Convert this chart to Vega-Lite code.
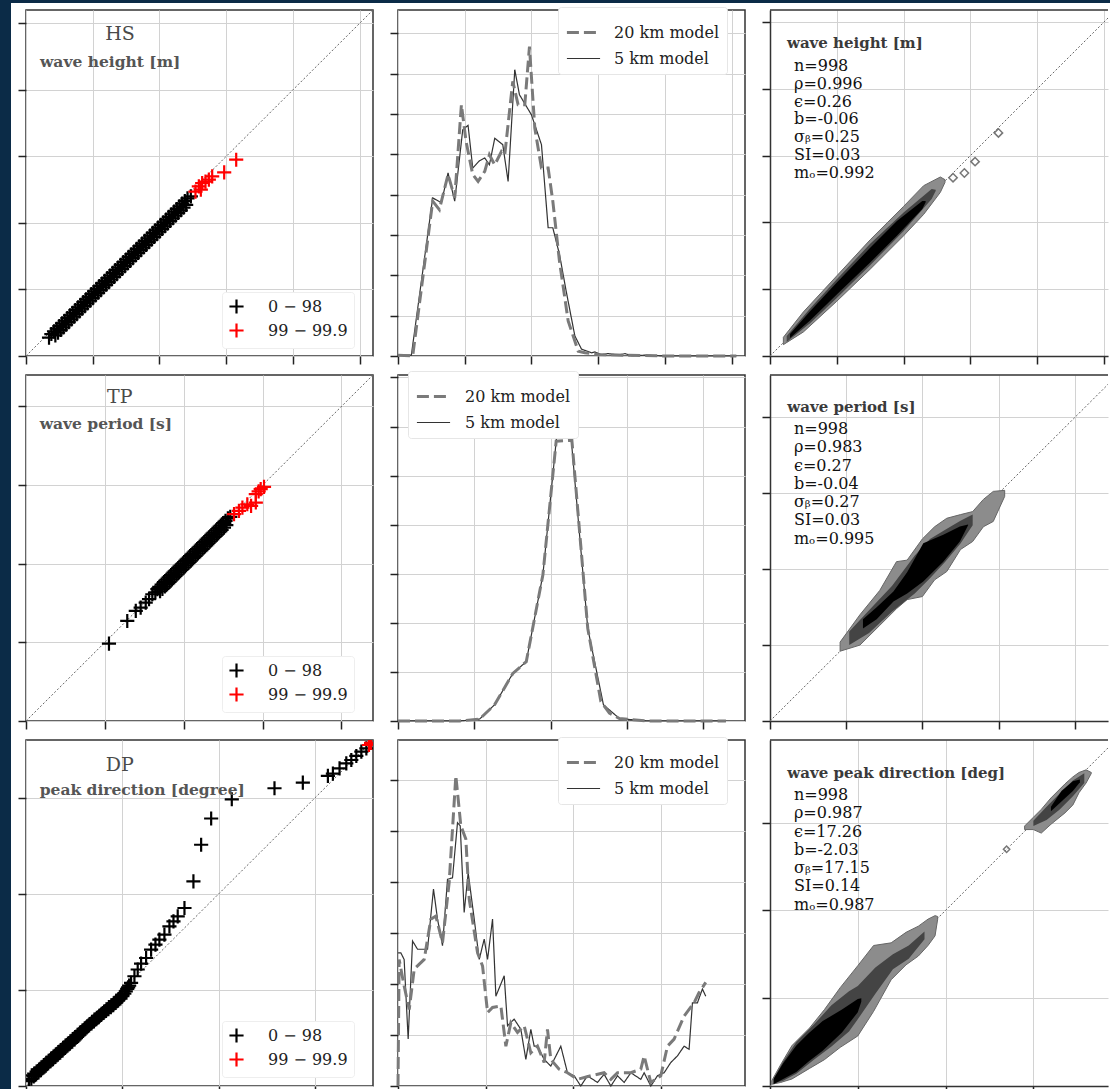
{
"$schema": "https://vega.github.io/schema/vega-lite/v6.json",
"padding": 0,
"background": "white",
"config": {
  "font": "DejaVu Serif",
  "view": {"stroke": "#333", "strokeWidth": 1.5},
  "axis": {"labels": false, "domain": false, "ticks": true, "tickSize": 8, "tickColor": "#222", "tickWidth": 1.5, "grid": true, "gridColor": "#d2d2d2", "gridWidth": 1}
},
"spacing": 0,
"vconcat": [
  {"width": 1110, "height": 3, "view": {"fill": "#0b2b47", "stroke": null}, "data": {"values": [{}]}, "mark": {"type": "point", "opacity": 0, "size": 0}, "encoding": {}},
  {"spacing": 5, "hconcat": [
  {"width": 11, "height": 1086, "view": {"fill": "#0b2b47", "stroke": null}, "data": {"values": [{}]}, "mark": {"type": "point", "opacity": 0, "size": 0}, "encoding": {}},
  {"spacing": 1, "vconcat": [
    {"width": 10, "height": 1, "view": {"stroke": null}, "data": {"values": [{}]}, "mark": {"type": "point", "opacity": 0, "size": 0}, "encoding": {}},
    {"columns": 3, "bounds": "flush", "align": "each", "spacing": {"row": 19, "column": 25},
     "resolve": {"scale": {"x": "independent", "y": "independent", "color": "independent", "strokeDash": "independent", "strokeWidth": "independent"}, "legend": {"color": "independent", "strokeDash": "independent", "strokeWidth": "independent"}, "axis": {"x": "independent", "y": "independent"}},
     "concat": [
      {"width": 347, "height": 346, "layer": [
        {"data": {"values": [{}]}, "mark": {"type": "rule", "strokeDash": [2, 2], "color": "#666", "strokeWidth": 1},
         "encoding": {"x": {"datum": 0, "type": "quantitative", "scale": {"domain": [0, 5.2], "nice": false}, "axis": {"values": [0, 1, 2, 3, 4, 5]}, "title": null},
                      "y": {"datum": 0, "type": "quantitative", "scale": {"domain": [0, 5.2], "nice": false}, "axis": {"values": [0, 1, 2, 3, 4, 5]}, "title": null},
                      "x2": {"datum": 5.2}, "y2": {"datum": 5.2}}},
        {"data": {"values": [
          {"x":0.345,"y":0.275,"c":"0 − 98"},
          {"x":0.38,"y":0.33,"c":"0 − 98"},{"x":0.42,"y":0.37,"c":"0 − 98"},{"x":0.46,"y":0.41,"c":"0 − 98"},{"x":0.5,"y":0.45,"c":"0 − 98"},{"x":0.54,"y":0.49,"c":"0 − 98"},{"x":0.58,"y":0.53,"c":"0 − 98"},{"x":0.62,"y":0.57,"c":"0 − 98"},{"x":0.66,"y":0.61,"c":"0 − 98"},{"x":0.7,"y":0.65,"c":"0 − 98"},{"x":0.74,"y":0.69,"c":"0 − 98"},{"x":0.78,"y":0.73,"c":"0 − 98"},{"x":0.82,"y":0.77,"c":"0 − 98"},{"x":0.86,"y":0.81,"c":"0 − 98"},{"x":0.9,"y":0.85,"c":"0 − 98"},{"x":0.94,"y":0.89,"c":"0 − 98"},{"x":0.98,"y":0.93,"c":"0 − 98"},{"x":1.02,"y":0.97,"c":"0 − 98"},{"x":1.06,"y":1.01,"c":"0 − 98"},{"x":1.1,"y":1.05,"c":"0 − 98"},{"x":1.14,"y":1.09,"c":"0 − 98"},{"x":1.18,"y":1.13,"c":"0 − 98"},{"x":1.22,"y":1.17,"c":"0 − 98"},{"x":1.26,"y":1.21,"c":"0 − 98"},{"x":1.3,"y":1.25,"c":"0 − 98"},{"x":1.34,"y":1.29,"c":"0 − 98"},{"x":1.38,"y":1.33,"c":"0 − 98"},{"x":1.42,"y":1.37,"c":"0 − 98"},{"x":1.46,"y":1.41,"c":"0 − 98"},{"x":1.5,"y":1.45,"c":"0 − 98"},{"x":1.54,"y":1.49,"c":"0 − 98"},{"x":1.58,"y":1.53,"c":"0 − 98"},{"x":1.62,"y":1.57,"c":"0 − 98"},{"x":1.66,"y":1.61,"c":"0 − 98"},{"x":1.7,"y":1.65,"c":"0 − 98"},{"x":1.74,"y":1.69,"c":"0 − 98"},{"x":1.78,"y":1.73,"c":"0 − 98"},{"x":1.82,"y":1.77,"c":"0 − 98"},{"x":1.86,"y":1.81,"c":"0 − 98"},{"x":1.9,"y":1.85,"c":"0 − 98"},{"x":1.94,"y":1.89,"c":"0 − 98"},{"x":1.98,"y":1.93,"c":"0 − 98"},{"x":2.02,"y":1.97,"c":"0 − 98"},{"x":2.06,"y":2.01,"c":"0 − 98"},{"x":2.1,"y":2.05,"c":"0 − 98"},{"x":2.14,"y":2.09,"c":"0 − 98"},{"x":2.18,"y":2.13,"c":"0 − 98"},{"x":2.22,"y":2.17,"c":"0 − 98"},{"x":2.26,"y":2.21,"c":"0 − 98"},{"x":2.3,"y":2.25,"c":"0 − 98"},{"x":2.34,"y":2.29,"c":"0 − 98"},{"x":2.38,"y":2.33,"c":"0 − 98"},{"x":2.42,"y":2.37,"c":"0 − 98"},{"x":2.47,"y":2.4,"c":"0 − 98"},
          {"x":0.44,"y":0.31,"c":"0 − 98"},{"x":0.48,"y":0.35,"c":"0 − 98"},{"x":0.52,"y":0.39,"c":"0 − 98"},{"x":0.56,"y":0.43,"c":"0 − 98"},{"x":0.6,"y":0.47,"c":"0 − 98"},{"x":0.64,"y":0.51,"c":"0 − 98"},{"x":0.68,"y":0.55,"c":"0 − 98"},{"x":0.72,"y":0.59,"c":"0 − 98"},{"x":0.76,"y":0.63,"c":"0 − 98"},{"x":0.8,"y":0.67,"c":"0 − 98"},{"x":0.84,"y":0.71,"c":"0 − 98"},{"x":0.88,"y":0.75,"c":"0 − 98"},{"x":0.92,"y":0.79,"c":"0 − 98"},{"x":0.96,"y":0.83,"c":"0 − 98"},{"x":1.0,"y":0.87,"c":"0 − 98"},{"x":1.04,"y":0.91,"c":"0 − 98"},{"x":1.08,"y":0.95,"c":"0 − 98"},{"x":1.12,"y":0.99,"c":"0 − 98"},{"x":1.16,"y":1.03,"c":"0 − 98"},{"x":1.2,"y":1.07,"c":"0 − 98"},{"x":1.24,"y":1.11,"c":"0 − 98"},{"x":1.28,"y":1.15,"c":"0 − 98"},{"x":1.32,"y":1.19,"c":"0 − 98"},{"x":1.36,"y":1.23,"c":"0 − 98"},{"x":1.4,"y":1.27,"c":"0 − 98"},{"x":1.44,"y":1.31,"c":"0 − 98"},{"x":1.48,"y":1.35,"c":"0 − 98"},{"x":1.52,"y":1.39,"c":"0 − 98"},{"x":1.56,"y":1.43,"c":"0 − 98"},{"x":1.6,"y":1.47,"c":"0 − 98"},{"x":1.64,"y":1.51,"c":"0 − 98"},{"x":1.68,"y":1.55,"c":"0 − 98"},{"x":1.72,"y":1.59,"c":"0 − 98"},{"x":1.76,"y":1.63,"c":"0 − 98"},{"x":1.8,"y":1.67,"c":"0 − 98"},{"x":1.84,"y":1.71,"c":"0 − 98"},{"x":1.88,"y":1.75,"c":"0 − 98"},{"x":1.92,"y":1.79,"c":"0 − 98"},{"x":1.96,"y":1.83,"c":"0 − 98"},{"x":2.0,"y":1.87,"c":"0 − 98"},{"x":2.04,"y":1.91,"c":"0 − 98"},{"x":2.08,"y":1.95,"c":"0 − 98"},{"x":2.12,"y":1.99,"c":"0 − 98"},{"x":2.16,"y":2.03,"c":"0 − 98"},{"x":2.2,"y":2.07,"c":"0 − 98"},{"x":2.24,"y":2.11,"c":"0 − 98"},{"x":2.28,"y":2.15,"c":"0 − 98"},{"x":2.32,"y":2.19,"c":"0 − 98"},{"x":2.36,"y":2.23,"c":"0 − 98"},{"x":2.4,"y":2.27,"c":"0 − 98"},
          {"x":2.54,"y":2.47,"c":"99 − 99.9"},{"x":2.59,"y":2.55,"c":"99 − 99.9"},{"x":2.62,"y":2.5,"c":"99 − 99.9"},{"x":2.64,"y":2.6,"c":"99 − 99.9"},{"x":2.69,"y":2.62,"c":"99 − 99.9"},{"x":2.74,"y":2.65,"c":"99 − 99.9"},{"x":2.79,"y":2.7,"c":"99 − 99.9"},{"x":2.97,"y":2.76,"c":"99 − 99.9"},{"x":3.15,"y":2.95,"c":"99 − 99.9"}]},
         "mark": {"type": "point", "shape": "M-1,0L1,0M0,-1L0,1", "filled": false, "size": 200, "strokeWidth": 2.2, "opacity": 1},
         "encoding": {"x": {"field": "x", "type": "quantitative", "scale": {"domain": [0, 5.2], "nice": false}, "title": null},
                      "y": {"field": "y", "type": "quantitative", "scale": {"domain": [0, 5.2], "nice": false}, "title": null},
                      "color": {"field": "c", "type": "nominal", "scale": {"domain": ["0 − 98", "99 − 99.9"], "range": ["#000000", "#ff0000"]},
                                "legend": {"orient": "none", "legendX": 196, "legendY": 282, "title": null, "symbolType": "M-1,0L1,0M0,-1L0,1", "symbolSize": 200, "symbolStrokeWidth": 2.2, "labelFontSize": 16, "labelColor": "#222", "labelOffset": 23, "rowPadding": 1, "fillColor": "white", "strokeColor": "#eeeeee", "padding": 6, "cornerRadius": 3}}}},
        {"data": {"values": [{}]}, "mark": {"type": "text", "text": "HS", "fontSize": 19, "color": "#4a4a4a", "align": "center", "baseline": "middle"},
         "encoding": {"x": {"datum": 1.41, "type": "quantitative", "scale": {"domain": [0, 5.2], "nice": false}, "title": null}, "y": {"datum": 4.84, "type": "quantitative", "scale": {"domain": [0, 5.2], "nice": false}, "title": null}}},
        {"data": {"values": [{}]}, "mark": {"type": "text", "text": "wave height [m]", "fontSize": 15.5, "fontWeight": "bold", "color": "#555", "align": "left", "baseline": "middle"},
         "encoding": {"x": {"datum": 0.21, "type": "quantitative", "scale": {"domain": [0, 5.2], "nice": false}, "title": null}, "y": {"datum": 4.42, "type": "quantitative", "scale": {"domain": [0, 5.2], "nice": false}, "title": null}}}
      ]},
      {"width": 347, "height": 346,
       "data": {"values": [
         {"x":0,"y":0.02,"m":"5 km model"},{"x":0.2,"y":0.02,"m":"5 km model"},{"x":0.52,"y":3.92,"m":"5 km model"},{"x":0.65,"y":3.8,"m":"5 km model"},{"x":0.75,"y":4.54,"m":"5 km model"},{"x":0.85,"y":3.84,"m":"5 km model"},{"x":0.97,"y":5.61,"m":"5 km model"},{"x":1.05,"y":5.72,"m":"5 km model"},{"x":1.12,"y":4.66,"m":"5 km model"},{"x":1.22,"y":4.84,"m":"5 km model"},{"x":1.3,"y":4.91,"m":"5 km model"},{"x":1.37,"y":4.74,"m":"5 km model"},{"x":1.45,"y":5.4,"m":"5 km model"},{"x":1.57,"y":5.24,"m":"5 km model"},{"x":1.65,"y":4.33,"m":"5 km model"},{"x":1.75,"y":7.1,"m":"5 km model"},{"x":1.82,"y":6.48,"m":"5 km model"},{"x":2.0,"y":5.98,"m":"5 km model"},{"x":2.15,"y":5.24,"m":"5 km model"},{"x":2.25,"y":3.18,"m":"5 km model"},{"x":2.32,"y":3.18,"m":"5 km model"},{"x":2.42,"y":2.52,"m":"5 km model"},{"x":2.52,"y":1.61,"m":"5 km model"},{"x":2.65,"y":0.5,"m":"5 km model"},{"x":2.75,"y":0.17,"m":"5 km model"},{"x":2.9,"y":0.08,"m":"5 km model"},{"x":2.95,"y":0.1,"m":"5 km model"},{"x":3.05,"y":0.03,"m":"5 km model"},{"x":3.15,"y":0.06,"m":"5 km model"},{"x":3.3,"y":0.02,"m":"5 km model"},{"x":3.4,"y":0.06,"m":"5 km model"},{"x":3.5,"y":0.01,"m":"5 km model"},{"x":3.7,"y":0.02,"m":"5 km model"},{"x":4.0,"y":0,"m":"5 km model"},{"x":5.07,"y":0,"m":"5 km model"},
         {"x":0,"y":0.02,"m":"20 km model"},{"x":0.22,"y":0,"m":"20 km model"},{"x":0.52,"y":3.84,"m":"20 km model"},{"x":0.62,"y":3.63,"m":"20 km model"},{"x":0.75,"y":4.5,"m":"20 km model"},{"x":0.85,"y":3.92,"m":"20 km model"},{"x":0.95,"y":6.23,"m":"20 km model"},{"x":1.02,"y":5.32,"m":"20 km model"},{"x":1.12,"y":4.5,"m":"20 km model"},{"x":1.2,"y":4.33,"m":"20 km model"},{"x":1.3,"y":4.58,"m":"20 km model"},{"x":1.37,"y":4.99,"m":"20 km model"},{"x":1.45,"y":4.74,"m":"20 km model"},{"x":1.55,"y":5.07,"m":"20 km model"},{"x":1.6,"y":4.99,"m":"20 km model"},{"x":1.72,"y":6.81,"m":"20 km model"},{"x":1.8,"y":6.23,"m":"20 km model"},{"x":1.9,"y":6.23,"m":"20 km model"},{"x":1.97,"y":7.67,"m":"20 km model"},{"x":2.05,"y":5.65,"m":"20 km model"},{"x":2.15,"y":4.66,"m":"20 km model"},{"x":2.25,"y":4.66,"m":"20 km model"},{"x":2.32,"y":3.84,"m":"20 km model"},{"x":2.42,"y":2.35,"m":"20 km model"},{"x":2.55,"y":0.87,"m":"20 km model"},{"x":2.7,"y":0.12,"m":"20 km model"},{"x":2.8,"y":0.08,"m":"20 km model"},{"x":3.0,"y":0.04,"m":"20 km model"},{"x":3.4,"y":0.02,"m":"20 km model"},{"x":4.0,"y":0,"m":"20 km model"},{"x":5.07,"y":0,"m":"20 km model"}]},
       "mark": {"type": "line"},
       "encoding": {
         "x": {"field": "x", "type": "quantitative", "scale": {"domain": [0, 5.2], "nice": false}, "axis": {"values": [0, 1, 2, 3, 4, 5]}, "title": null},
         "y": {"field": "y", "type": "quantitative", "scale": {"domain": [0, 8.58], "nice": false}, "axis": {"values": [0, 1, 2, 3, 4, 5, 6, 7, 8]}, "title": null},
         "color": {"field": "m", "type": "nominal", "scale": {"domain": ["20 km model", "5 km model"], "range": ["#7a7a7a", "#333333"]}, "legend": {"orient": "none", "legendX": 160, "legendY": -3, "title": null, "labelFontSize": 16, "labelColor": "#222", "symbolSize": 1100, "labelOffset": 12, "rowPadding": 0, "fillColor": "white", "strokeColor": "#e6e6e6", "padding": 7, "cornerRadius": 3}},
         "strokeDash": {"field": "m", "type": "nominal", "scale": {"domain": ["20 km model", "5 km model"], "range": [[12, 5], [1, 0]]}, "legend": {"orient": "none", "legendX": 160, "legendY": -3, "title": null, "labelFontSize": 16, "labelColor": "#222", "symbolSize": 1100, "labelOffset": 12, "rowPadding": 0, "fillColor": "white", "strokeColor": "#e6e6e6", "padding": 7, "cornerRadius": 3}},
         "strokeWidth": {"field": "m", "type": "nominal", "scale": {"domain": ["20 km model", "5 km model"], "range": [3, 1.2]}, "legend": {"orient": "none", "legendX": 160, "legendY": -3, "title": null, "labelFontSize": 16, "labelColor": "#222", "symbolSize": 1100, "labelOffset": 12, "rowPadding": 0, "fillColor": "white", "strokeColor": "#e6e6e6", "padding": 7, "cornerRadius": 3}}
       }},
      {"width": 338, "height": 346, "view": {"stroke": null}, "layer": [
        {"data": {"values": [{}]}, "mark": {"type": "rule", "strokeDash": [2, 2], "color": "#666", "strokeWidth": 1, "clip": true},
         "encoding": {"x": {"datum": 0, "type": "quantitative", "scale": {"domain": [0, 5.06], "nice": false}, "axis": {"values": [0, 1, 2, 3, 4, 5], "domain": true, "domainColor": "#333", "domainWidth": 1.5}, "title": null},
                      "y": {"datum": 0, "type": "quantitative", "scale": {"domain": [0, 5.18], "nice": false}, "axis": {"values": [0, 1, 2, 3, 4, 5], "domain": true, "domainColor": "#333", "domainWidth": 1.5}, "title": null},
                      "x2": {"datum": 5.18}, "y2": {"datum": 5.18}}},
        {"data": {"values": [{"x":0.2,"lo":0.17,"hi":0.28},{"x":0.5,"lo":0.36,"hi":0.66},{"x":1.0,"lo":0.82,"hi":1.2},{"x":1.5,"lo":1.3,"hi":1.74},{"x":2.0,"lo":1.8,"hi":2.24},{"x":2.3,"lo":2.12,"hi":2.55},{"x":2.55,"lo":2.45,"hi":2.68},{"x":2.62,"lo":2.6,"hi":2.64}]},
         "mark": {"type": "area", "fill": "#8c8c8c", "stroke": "#666", "strokeWidth": 1},
         "encoding": {"x": {"field": "x", "type": "quantitative", "scale": {"domain": [0, 5.06], "nice": false}, "title": null}, "y": {"field": "lo", "type": "quantitative", "scale": {"domain": [0, 5.18], "nice": false}, "title": null}, "y2": {"field": "hi"}}},
        {"data": {"values": [{"x":0.25,"lo":0.21,"hi":0.3},{"x":0.6,"lo":0.49,"hi":0.71},{"x":1.0,"lo":0.87,"hi":1.15},{"x":1.5,"lo":1.36,"hi":1.68},{"x":2.0,"lo":1.87,"hi":2.15},{"x":2.42,"lo":2.35,"hi":2.5},{"x":2.48,"lo":2.47,"hi":2.49}]},
         "mark": {"type": "area", "fill": "#444"},
         "encoding": {"x": {"field": "x", "type": "quantitative", "scale": {"domain": [0, 5.06], "nice": false}, "title": null}, "y": {"field": "lo", "type": "quantitative", "scale": {"domain": [0, 5.18], "nice": false}, "title": null}, "y2": {"field": "hi"}}},
        {"data": {"values": [{"x":0.3,"lo":0.27,"hi":0.33},{"x":0.6,"lo":0.53,"hi":0.67},{"x":1.0,"lo":0.92,"hi":1.1},{"x":1.5,"lo":1.4,"hi":1.62},{"x":1.9,"lo":1.8,"hi":2.02},{"x":2.28,"lo":2.2,"hi":2.32},{"x":2.33,"lo":2.3,"hi":2.32}]},
         "mark": {"type": "area", "fill": "#000"},
         "encoding": {"x": {"field": "x", "type": "quantitative", "scale": {"domain": [0, 5.06], "nice": false}, "title": null}, "y": {"field": "lo", "type": "quantitative", "scale": {"domain": [0, 5.18], "nice": false}, "title": null}, "y2": {"field": "hi"}}},
        {"data": {"values": [{"x":2.74,"y":2.67},{"x":2.91,"y":2.74},{"x":3.07,"y":2.91},{"x":3.42,"y":3.34}]},
         "mark": {"type": "point", "shape": "diamond", "filled": false, "size": 70, "color": "#777", "strokeWidth": 1.5, "opacity": 1},
         "encoding": {"x": {"field": "x", "type": "quantitative", "scale": {"domain": [0, 5.06], "nice": false}, "title": null}, "y": {"field": "y", "type": "quantitative", "scale": {"domain": [0, 5.18], "nice": false}, "title": null}}},
        {"data": {"values": [{}]}, "mark": {"type": "rule", "color": "#333", "strokeWidth": 1.5},
         "encoding": {"y": {"datum": 5.18, "type": "quantitative", "scale": {"domain": [0, 5.18], "nice": false}, "title": null}}},
        {"data": {"values": [{}]}, "mark": {"type": "text", "text": "wave height [m]", "fontSize": 15, "fontWeight": "bold", "color": "#3a3a3a", "align": "left", "baseline": "middle"},
         "encoding": {"x": {"datum": 0.254, "type": "quantitative", "scale": {"domain": [0, 5.06], "nice": false}, "title": null}, "y": {"datum": 4.685, "type": "quantitative", "scale": {"domain": [0, 5.18], "nice": false}, "title": null}}},
        {"data": {"values": [{}]}, "mark": {"type": "text", "text": ["n=998", "ρ=0.996", "ϵ=0.26", "b=-0.06", "σᵦ=0.25", "SI=0.03", "mₒ=0.992"], "lineHeight": 17.8, "fontSize": 16, "color": "#111", "align": "left", "baseline": "top"},
         "encoding": {"x": {"datum": 0.36, "type": "quantitative", "scale": {"domain": [0, 5.06], "nice": false}, "title": null}, "y": {"datum": 4.46, "type": "quantitative", "scale": {"domain": [0, 5.18], "nice": false}, "title": null}}}
      ]},
      {"width": 347, "height": 346, "layer": [
        {"data": {"values": [{}]}, "mark": {"type": "rule", "strokeDash": [2, 2], "color": "#666", "strokeWidth": 1},
         "encoding": {"x": {"datum": 0, "type": "quantitative", "scale": {"domain": [0, 22], "nice": false}, "axis": {"values": [0, 5, 10, 15, 20]}, "title": null},
                      "y": {"datum": 0, "type": "quantitative", "scale": {"domain": [0, 22], "nice": false}, "axis": {"values": [0, 5, 10, 15, 20]}, "title": null},
                      "x2": {"datum": 22}, "y2": {"datum": 22}}},
        {"data": {"values": [
          {"x":5.26,"y":4.92,"c":"0 − 98"},{"x":6.42,"y":6.36,"c":"0 − 98"},{"x":6.96,"y":7.0,"c":"0 − 98"},{"x":7.27,"y":7.21,"c":"0 − 98"},{"x":7.59,"y":7.53,"c":"0 − 98"},{"x":7.8,"y":7.75,"c":"0 − 98"},{"x":8.01,"y":8.06,"c":"0 − 98"},{"x":8.2,"y":8.18,"c":"0 − 98"},{"x":8.33,"y":8.38,"c":"0 − 98"},
          {"x":8.45,"y":8.53,"c":"0 − 98"},{"x":8.6,"y":8.68,"c":"0 − 98"},{"x":8.75,"y":8.83,"c":"0 − 98"},{"x":8.9,"y":8.98,"c":"0 − 98"},{"x":9.05,"y":9.13,"c":"0 − 98"},{"x":9.2,"y":9.28,"c":"0 − 98"},{"x":9.35,"y":9.43,"c":"0 − 98"},{"x":9.5,"y":9.58,"c":"0 − 98"},{"x":9.65,"y":9.73,"c":"0 − 98"},{"x":9.8,"y":9.88,"c":"0 − 98"},{"x":9.95,"y":10.03,"c":"0 − 98"},{"x":10.1,"y":10.18,"c":"0 − 98"},{"x":10.25,"y":10.33,"c":"0 − 98"},{"x":10.4,"y":10.48,"c":"0 − 98"},{"x":10.55,"y":10.63,"c":"0 − 98"},{"x":10.7,"y":10.78,"c":"0 − 98"},{"x":10.85,"y":10.93,"c":"0 − 98"},{"x":11.0,"y":11.08,"c":"0 − 98"},{"x":11.15,"y":11.23,"c":"0 − 98"},{"x":11.3,"y":11.38,"c":"0 − 98"},{"x":11.45,"y":11.53,"c":"0 − 98"},{"x":11.6,"y":11.68,"c":"0 − 98"},{"x":11.75,"y":11.83,"c":"0 − 98"},{"x":11.9,"y":11.98,"c":"0 − 98"},{"x":12.05,"y":12.13,"c":"0 − 98"},{"x":12.2,"y":12.28,"c":"0 − 98"},{"x":12.35,"y":12.43,"c":"0 − 98"},{"x":12.5,"y":12.58,"c":"0 − 98"},{"x":12.65,"y":12.73,"c":"0 − 98"},{"x":12.8,"y":12.88,"c":"0 − 98"},{"x":12.95,"y":12.98,"c":"0 − 98"},
          {"x":8.5,"y":8.25,"c":"0 − 98"},{"x":8.65,"y":8.4,"c":"0 − 98"},{"x":8.8,"y":8.55,"c":"0 − 98"},{"x":8.95,"y":8.7,"c":"0 − 98"},{"x":9.1,"y":8.85,"c":"0 − 98"},{"x":9.25,"y":9.0,"c":"0 − 98"},{"x":9.4,"y":9.15,"c":"0 − 98"},{"x":9.55,"y":9.3,"c":"0 − 98"},{"x":9.7,"y":9.45,"c":"0 − 98"},{"x":9.85,"y":9.6,"c":"0 − 98"},{"x":10.0,"y":9.75,"c":"0 − 98"},{"x":10.15,"y":9.9,"c":"0 − 98"},{"x":10.3,"y":10.05,"c":"0 − 98"},{"x":10.45,"y":10.2,"c":"0 − 98"},{"x":10.6,"y":10.35,"c":"0 − 98"},{"x":10.75,"y":10.5,"c":"0 − 98"},{"x":10.9,"y":10.65,"c":"0 − 98"},{"x":11.05,"y":10.8,"c":"0 − 98"},{"x":11.2,"y":10.95,"c":"0 − 98"},{"x":11.35,"y":11.1,"c":"0 − 98"},{"x":11.5,"y":11.25,"c":"0 − 98"},{"x":11.65,"y":11.4,"c":"0 − 98"},{"x":11.8,"y":11.55,"c":"0 − 98"},{"x":11.95,"y":11.7,"c":"0 − 98"},{"x":12.1,"y":11.85,"c":"0 − 98"},{"x":12.25,"y":12.0,"c":"0 − 98"},{"x":12.4,"y":12.15,"c":"0 − 98"},{"x":12.55,"y":12.3,"c":"0 − 98"},{"x":12.7,"y":12.45,"c":"0 − 98"},
          {"x":13.19,"y":13.15,"c":"99 − 99.9"},{"x":13.5,"y":13.36,"c":"99 − 99.9"},{"x":13.72,"y":13.57,"c":"99 − 99.9"},{"x":14.03,"y":13.78,"c":"99 − 99.9"},{"x":14.27,"y":13.68,"c":"99 − 99.9"},{"x":14.57,"y":13.89,"c":"99 − 99.9"},{"x":14.57,"y":14.42,"c":"99 − 99.9"},{"x":14.75,"y":14.6,"c":"99 − 99.9"},{"x":14.88,"y":14.74,"c":"99 − 99.9"},{"x":15.09,"y":14.89,"c":"99 − 99.9"}]},
         "mark": {"type": "point", "shape": "M-1,0L1,0M0,-1L0,1", "filled": false, "size": 200, "strokeWidth": 2.2, "opacity": 1},
         "encoding": {"x": {"field": "x", "type": "quantitative", "scale": {"domain": [0, 22], "nice": false}, "title": null},
                      "y": {"field": "y", "type": "quantitative", "scale": {"domain": [0, 22], "nice": false}, "title": null},
                      "color": {"field": "c", "type": "nominal", "scale": {"domain": ["0 − 98", "99 − 99.9"], "range": ["#000000", "#ff0000"]},
                                "legend": {"orient": "none", "legendX": 196, "legendY": 281, "title": null, "symbolType": "M-1,0L1,0M0,-1L0,1", "symbolSize": 200, "symbolStrokeWidth": 2.2, "labelFontSize": 16, "labelColor": "#222", "labelOffset": 23, "rowPadding": 1, "fillColor": "white", "strokeColor": "#eeeeee", "padding": 6, "cornerRadius": 3}}}},
        {"data": {"values": [{}]}, "mark": {"type": "text", "text": "TP", "fontSize": 19, "color": "#4a4a4a", "align": "center", "baseline": "middle"},
         "encoding": {"x": {"datum": 5.94, "type": "quantitative", "scale": {"domain": [0, 22], "nice": false}, "title": null}, "y": {"datum": 20.57, "type": "quantitative", "scale": {"domain": [0, 22], "nice": false}, "title": null}}},
        {"data": {"values": [{}]}, "mark": {"type": "text", "text": "wave period [s]", "fontSize": 15.5, "fontWeight": "bold", "color": "#555", "align": "left", "baseline": "middle"},
         "encoding": {"x": {"datum": 0.87, "type": "quantitative", "scale": {"domain": [0, 22], "nice": false}, "title": null}, "y": {"datum": 18.87, "type": "quantitative", "scale": {"domain": [0, 22], "nice": false}, "title": null}}}
      ]},
      {"width": 347, "height": 346,
       "data": {"values": [
         {"x":0,"y":0,"m":"5 km model"},{"x":4.04,"y":0,"m":"5 km model"},{"x":5.35,"y":0.04,"m":"5 km model"},{"x":6.33,"y":0.33,"m":"5 km model"},{"x":7.53,"y":0.97,"m":"5 km model"},{"x":8.41,"y":1.21,"m":"5 km model"},{"x":9.5,"y":2.98,"m":"5 km model"},{"x":10.37,"y":5.7,"m":"5 km model"},{"x":10.59,"y":6.28,"m":"5 km model"},{"x":11.36,"y":5.73,"m":"5 km model"},{"x":12.44,"y":1.89,"m":"5 km model"},{"x":13.47,"y":0.33,"m":"5 km model"},{"x":14.52,"y":0.05,"m":"5 km model"},{"x":16.27,"y":0,"m":"5 km model"},{"x":21.5,"y":0,"m":"5 km model"},
         {"x":0,"y":0,"m":"20 km model"},{"x":4.04,"y":0,"m":"20 km model"},{"x":5.35,"y":0.04,"m":"20 km model"},{"x":6.33,"y":0.33,"m":"20 km model"},{"x":7.53,"y":0.97,"m":"20 km model"},{"x":8.41,"y":1.21,"m":"20 km model"},{"x":9.5,"y":2.98,"m":"20 km model"},{"x":10.37,"y":5.7,"m":"20 km model"},{"x":11.4,"y":5.72,"m":"20 km model"},{"x":12.44,"y":1.89,"m":"20 km model"},{"x":13.3,"y":0.4,"m":"20 km model"},{"x":13.86,"y":0.16,"m":"20 km model"},{"x":14.52,"y":0.05,"m":"20 km model"},{"x":16.27,"y":0,"m":"20 km model"},{"x":21.5,"y":0,"m":"20 km model"}]},
       "mark": {"type": "line"},
       "encoding": {
         "x": {"field": "x", "type": "quantitative", "scale": {"domain": [0, 22.75], "nice": false}, "axis": {"values": [0, 5, 10, 15, 20]}, "title": null},
         "y": {"field": "y", "type": "quantitative", "scale": {"domain": [0, 7.05], "nice": false}, "axis": {"values": [0, 1, 2, 3, 4, 5, 6, 7]}, "title": null},
         "color": {"field": "m", "type": "nominal", "scale": {"domain": ["20 km model", "5 km model"], "range": ["#7a7a7a", "#333333"]}, "legend": {"orient": "none", "legendX": 10, "legendY": -4, "title": null, "labelFontSize": 16, "labelColor": "#222", "symbolSize": 1100, "labelOffset": 13, "rowPadding": 0, "fillColor": "white", "strokeColor": "#e6e6e6", "padding": 7, "cornerRadius": 3}},
         "strokeDash": {"field": "m", "type": "nominal", "scale": {"domain": ["20 km model", "5 km model"], "range": [[12, 5], [1, 0]]}, "legend": {"orient": "none", "legendX": 10, "legendY": -4, "title": null, "labelFontSize": 16, "labelColor": "#222", "symbolSize": 1100, "labelOffset": 13, "rowPadding": 0, "fillColor": "white", "strokeColor": "#e6e6e6", "padding": 7, "cornerRadius": 3}},
         "strokeWidth": {"field": "m", "type": "nominal", "scale": {"domain": ["20 km model", "5 km model"], "range": [3, 1.2]}, "legend": {"orient": "none", "legendX": 10, "legendY": -4, "title": null, "labelFontSize": 16, "labelColor": "#222", "symbolSize": 1100, "labelOffset": 13, "rowPadding": 0, "fillColor": "white", "strokeColor": "#e6e6e6", "padding": 7, "cornerRadius": 3}}
       }},
      {"width": 338, "height": 346, "view": {"stroke": null}, "layer": [
        {"data": {"values": [{}]}, "mark": {"type": "rule", "strokeDash": [2, 2], "color": "#666", "strokeWidth": 1, "clip": true},
         "encoding": {"x": {"datum": 0, "type": "quantitative", "scale": {"domain": [0, 22.18], "nice": false}, "axis": {"values": [0, 5, 10, 15, 20], "domain": true, "domainColor": "#333", "domainWidth": 1.5}, "title": null},
                      "y": {"datum": 0, "type": "quantitative", "scale": {"domain": [0, 22.8], "nice": false}, "axis": {"values": [0, 5, 10, 15, 20], "domain": true, "domainColor": "#333", "domainWidth": 1.5}, "title": null},
                      "x2": {"datum": 22.8}, "y2": {"datum": 22.8}}},
        {"data": {"values": [{"x":4.6,"lo":4.6,"hi":5.2},{"x":5.9,"lo":5.0,"hi":7.0},{"x":7.2,"lo":6.3,"hi":8.6},{"x":8.3,"lo":7.4,"hi":10.5},{"x":9.0,"lo":8.0,"hi":10.6},{"x":10.0,"lo":8.2,"hi":12.0},{"x":10.8,"lo":9.3,"hi":12.8},{"x":11.6,"lo":9.85,"hi":13.36},{"x":12.5,"lo":11.3,"hi":13.6},{"x":13.3,"lo":11.83,"hi":13.8},{"x":14.0,"lo":12.8,"hi":14.6},{"x":14.65,"lo":13.15,"hi":15.13},{"x":15.4,"lo":14.8,"hi":15.2}]},
         "mark": {"type": "area", "fill": "#8c8c8c", "stroke": "#666", "strokeWidth": 1},
         "encoding": {"x": {"field": "x", "type": "quantitative", "scale": {"domain": [0, 22.18], "nice": false}, "title": null}, "y": {"field": "lo", "type": "quantitative", "scale": {"domain": [0, 22.8], "nice": false}, "title": null}, "y2": {"field": "hi"}}},
        {"data": {"values": [{"x":5.2,"lo":5.0,"hi":5.9},{"x":6.5,"lo":5.8,"hi":7.3},{"x":8.0,"lo":7.2,"hi":8.9},{"x":9.5,"lo":8.4,"hi":10.9},{"x":10.5,"lo":9.4,"hi":12.0},{"x":11.5,"lo":10.5,"hi":12.6},{"x":12.5,"lo":11.7,"hi":13.2},{"x":13.3,"lo":12.9,"hi":13.6}]},
         "mark": {"type": "area", "fill": "#444"},
         "encoding": {"x": {"field": "x", "type": "quantitative", "scale": {"domain": [0, 22.18], "nice": false}, "title": null}, "y": {"field": "lo", "type": "quantitative", "scale": {"domain": [0, 22.8], "nice": false}, "title": null}, "y2": {"field": "hi"}}},
        {"data": {"values": [{"x":6.1,"lo":6.1,"hi":6.7},{"x":7.0,"lo":6.7,"hi":7.5},{"x":8.1,"lo":7.87,"hi":8.53},{"x":9.0,"lo":8.4,"hi":9.8},{"x":10.06,"lo":9.19,"hi":11.71},{"x":11.37,"lo":10.5,"hi":12.27},{"x":12.46,"lo":11.83,"hi":12.82},{"x":13.0,"lo":12.9,"hi":12.95}]},
         "mark": {"type": "area", "fill": "#000"},
         "encoding": {"x": {"field": "x", "type": "quantitative", "scale": {"domain": [0, 22.18], "nice": false}, "title": null}, "y": {"field": "lo", "type": "quantitative", "scale": {"domain": [0, 22.8], "nice": false}, "title": null}, "y2": {"field": "hi"}}},
        {"data": {"values": [{}]}, "mark": {"type": "rule", "color": "#333", "strokeWidth": 1.5},
         "encoding": {"y": {"datum": 22.8, "type": "quantitative", "scale": {"domain": [0, 22.8], "nice": false}, "title": null}}},
        {"data": {"values": [{}]}, "mark": {"type": "text", "text": "wave period [s]", "fontSize": 15, "fontWeight": "bold", "color": "#3a3a3a", "align": "left", "baseline": "middle"},
         "encoding": {"x": {"datum": 1.14, "type": "quantitative", "scale": {"domain": [0, 22.18], "nice": false}, "title": null}, "y": {"datum": 20.67, "type": "quantitative", "scale": {"domain": [0, 22.8], "nice": false}, "title": null}}},
        {"data": {"values": [{}]}, "mark": {"type": "text", "text": ["n=998", "ρ=0.983", "ϵ=0.27", "b=-0.04", "σᵦ=0.27", "SI=0.03", "mₒ=0.995"], "lineHeight": 18.3, "fontSize": 16, "color": "#111", "align": "left", "baseline": "top"},
         "encoding": {"x": {"datum": 1.57, "type": "quantitative", "scale": {"domain": [0, 22.18], "nice": false}, "title": null}, "y": {"datum": 19.77, "type": "quantitative", "scale": {"domain": [0, 22.8], "nice": false}, "title": null}}}
      ]},
      {"width": 347, "height": 346, "layer": [
        {"data": {"values": [{}]}, "mark": {"type": "rule", "strokeDash": [2, 2], "color": "#666", "strokeWidth": 1},
         "encoding": {"x": {"datum": 0, "type": "quantitative", "scale": {"domain": [0, 360], "nice": false}, "axis": {"values": [0, 100, 200, 300], "tickSize": 3}, "title": null},
                      "y": {"datum": 0, "type": "quantitative", "scale": {"domain": [0, 360], "nice": false}, "axis": {"values": [0, 100, 200, 300]}, "title": null},
                      "x2": {"datum": 360}, "y2": {"datum": 360}}},
        {"data": {"values": [
          {"x":3,"y":5,"c":"0 − 98"},{"x":5.5,"y":7.5,"c":"0 − 98"},{"x":8,"y":10,"c":"0 − 98"},{"x":10.5,"y":12,"c":"0 − 98"},{"x":13,"y":14,"c":"0 − 98"},{"x":15.5,"y":16.5,"c":"0 − 98"},{"x":18,"y":19,"c":"0 − 98"},{"x":20.5,"y":21.2,"c":"0 − 98"},{"x":23,"y":23.5,"c":"0 − 98"},{"x":25.5,"y":25.7,"c":"0 − 98"},{"x":28,"y":28,"c":"0 − 98"},{"x":30.5,"y":30.2,"c":"0 − 98"},{"x":33,"y":32.5,"c":"0 − 98"},{"x":35.5,"y":34.7,"c":"0 − 98"},{"x":38,"y":37,"c":"0 − 98"},{"x":40.5,"y":39.5,"c":"0 − 98"},{"x":43,"y":42,"c":"0 − 98"},{"x":45.5,"y":44,"c":"0 − 98"},{"x":48,"y":46,"c":"0 − 98"},{"x":50.5,"y":48.5,"c":"0 − 98"},{"x":53,"y":51,"c":"0 − 98"},{"x":55.5,"y":53.5,"c":"0 − 98"},{"x":58,"y":56,"c":"0 − 98"},{"x":60.5,"y":58.5,"c":"0 − 98"},{"x":63,"y":61,"c":"0 − 98"},{"x":65.5,"y":63,"c":"0 − 98"},{"x":68,"y":65,"c":"0 − 98"},{"x":70.5,"y":67.2,"c":"0 − 98"},{"x":73,"y":69.5,"c":"0 − 98"},{"x":75.5,"y":71.7,"c":"0 − 98"},{"x":78,"y":74,"c":"0 − 98"},{"x":80.5,"y":76,"c":"0 − 98"},{"x":83,"y":78,"c":"0 − 98"},{"x":85.5,"y":80,"c":"0 − 98"},{"x":88,"y":82,"c":"0 − 98"},{"x":90.5,"y":84.2,"c":"0 − 98"},{"x":93,"y":86.5,"c":"0 − 98"},{"x":95.5,"y":88.7,"c":"0 − 98"},{"x":98,"y":91,"c":"0 − 98"},{"x":100,"y":93.5,"c":"0 − 98"},{"x":102,"y":96,"c":"0 − 98"},{"x":103.5,"y":98.5,"c":"0 − 98"},{"x":105,"y":101,"c":"0 − 98"},{"x":106,"y":102.7,"c":"0 − 98"},{"x":107,"y":104.5,"c":"0 − 98"},
          {"x":6,"y":11,"c":"0 − 98"},{"x":8.5,"y":13,"c":"0 − 98"},{"x":11,"y":15,"c":"0 − 98"},{"x":13.5,"y":17.2,"c":"0 − 98"},{"x":16,"y":19.5,"c":"0 − 98"},{"x":18.5,"y":21.7,"c":"0 − 98"},{"x":21,"y":24,"c":"0 − 98"},{"x":23.5,"y":26.2,"c":"0 − 98"},{"x":26,"y":28.5,"c":"0 − 98"},{"x":28.5,"y":30.7,"c":"0 − 98"},{"x":31,"y":33,"c":"0 − 98"},{"x":33.5,"y":35.2,"c":"0 − 98"},{"x":36,"y":37.5,"c":"0 − 98"},{"x":38.5,"y":39.7,"c":"0 − 98"},{"x":41,"y":42,"c":"0 − 98"},{"x":43.5,"y":44.2,"c":"0 − 98"},{"x":46,"y":46.5,"c":"0 − 98"},{"x":48.5,"y":48.7,"c":"0 − 98"},{"x":51,"y":51,"c":"0 − 98"},{"x":53.5,"y":53.2,"c":"0 − 98"},{"x":56,"y":55.5,"c":"0 − 98"},{"x":58.5,"y":57.7,"c":"0 − 98"},{"x":61,"y":60,"c":"0 − 98"},{"x":63.5,"y":62.2,"c":"0 − 98"},{"x":66,"y":64.5,"c":"0 − 98"},{"x":68.5,"y":66.7,"c":"0 − 98"},{"x":71,"y":69,"c":"0 − 98"},{"x":73.5,"y":71,"c":"0 − 98"},{"x":76,"y":73,"c":"0 − 98"},{"x":78.5,"y":75.2,"c":"0 − 98"},{"x":81,"y":77.5,"c":"0 − 98"},{"x":83.5,"y":79.7,"c":"0 − 98"},{"x":86,"y":82,"c":"0 − 98"},{"x":88.5,"y":84,"c":"0 − 98"},{"x":91,"y":86,"c":"0 − 98"},{"x":93.5,"y":88.2,"c":"0 − 98"},{"x":96,"y":90.5,"c":"0 − 98"},{"x":98,"y":92.7,"c":"0 − 98"},{"x":100,"y":95,"c":"0 − 98"},
          {"x":109,"y":107.3,"c":"0 − 98"},{"x":112.5,"y":114.2,"c":"0 − 98"},{"x":115.9,"y":121.2,"c":"0 − 98"},{"x":119.4,"y":127.4,"c":"0 − 98"},{"x":124.6,"y":133.2,"c":"0 − 98"},{"x":129.8,"y":141.9,"c":"0 − 98"},{"x":134.3,"y":147.1,"c":"0 − 98"},{"x":138.4,"y":152.3,"c":"0 − 98"},{"x":143.6,"y":157.5,"c":"0 − 98"},{"x":148.8,"y":166.1,"c":"0 − 98"},{"x":153,"y":171.3,"c":"0 − 98"},{"x":157.4,"y":176.5,"c":"0 − 98"},{"x":164.4,"y":185.2,"c":"0 − 98"},{"x":173.7,"y":212.9,"c":"0 − 98"},{"x":181.7,"y":251,"c":"0 − 98"},{"x":192.1,"y":278.3,"c":"0 − 98"},{"x":213.5,"y":298.3,"c":"0 − 98"},{"x":257.8,"y":309.8,"c":"0 − 98"},{"x":287.2,"y":315.7,"c":"0 − 98"},{"x":313.2,"y":322.6,"c":"0 − 98"},{"x":318.4,"y":325,"c":"0 − 98"},{"x":325.3,"y":330.5,"c":"0 − 98"},{"x":332.3,"y":335.7,"c":"0 − 98"},{"x":337.5,"y":339.2,"c":"0 − 98"},{"x":342.7,"y":343.4,"c":"0 − 98"},{"x":347.9,"y":347.9,"c":"0 − 98"},{"x":353.1,"y":351.3,"c":"0 − 98"},
          {"x":355.8,"y":354.8,"c":"99 − 99.9"},{"x":358,"y":357,"c":"99 − 99.9"}]},
         "mark": {"type": "point", "shape": "M-1,0L1,0M0,-1L0,1", "filled": false, "size": 200, "strokeWidth": 2.2, "opacity": 1, "clip": true},
         "encoding": {"x": {"field": "x", "type": "quantitative", "scale": {"domain": [0, 360], "nice": false}, "title": null},
                      "y": {"field": "y", "type": "quantitative", "scale": {"domain": [0, 360], "nice": false}, "title": null},
                      "color": {"field": "c", "type": "nominal", "scale": {"domain": ["0 − 98", "99 − 99.9"], "range": ["#000000", "#ff0000"]},
                                "legend": {"orient": "none", "legendX": 196, "legendY": 281, "title": null, "symbolType": "M-1,0L1,0M0,-1L0,1", "symbolSize": 200, "symbolStrokeWidth": 2.2, "labelFontSize": 16, "labelColor": "#222", "labelOffset": 23, "rowPadding": 1, "fillColor": "white", "strokeColor": "#eeeeee", "padding": 6, "cornerRadius": 3}}}},
        {"data": {"values": [{}]}, "mark": {"type": "text", "text": "DP", "fontSize": 19, "color": "#4a4a4a", "align": "center", "baseline": "middle"},
         "encoding": {"x": {"datum": 97.2, "type": "quantitative", "scale": {"domain": [0, 360], "nice": false}, "title": null}, "y": {"datum": 334.4, "type": "quantitative", "scale": {"domain": [0, 360], "nice": false}, "title": null}}},
        {"data": {"values": [{}]}, "mark": {"type": "text", "text": "peak direction [degree]", "fontSize": 15.5, "fontWeight": "bold", "color": "#555", "align": "left", "baseline": "middle"},
         "encoding": {"x": {"datum": 14.2, "type": "quantitative", "scale": {"domain": [0, 360], "nice": false}, "title": null}, "y": {"datum": 308.4, "type": "quantitative", "scale": {"domain": [0, 360], "nice": false}, "title": null}}}
      ]},
      {"width": 347, "height": 346,
       "data": {"values": [
         {"x":0.1,"y":2.61,"m":"5 km model"},{"x":3.2,"y":2.61,"m":"5 km model"},{"x":7,"y":2.48,"m":"5 km model"},{"x":11.6,"y":0.92,"m":"5 km model"},{"x":16.6,"y":2.84,"m":"5 km model"},{"x":22.3,"y":2.68,"m":"5 km model"},{"x":33.7,"y":2.68,"m":"5 km model"},{"x":40.5,"y":3.86,"m":"5 km model"},{"x":45.1,"y":3.27,"m":"5 km model"},{"x":50.8,"y":2.75,"m":"5 km model"},{"x":56.5,"y":4.05,"m":"5 km model"},{"x":62.2,"y":4.08,"m":"5 km model"},{"x":67.9,"y":5.16,"m":"5 km model"},{"x":71,"y":5.1,"m":"5 km model"},{"x":75.5,"y":3.4,"m":"5 km model"},{"x":80.1,"y":4.18,"m":"5 km model"},{"x":87,"y":3.27,"m":"5 km model"},{"x":92.7,"y":2.48,"m":"5 km model"},{"x":98.4,"y":2.88,"m":"5 km model"},{"x":102.2,"y":2.48,"m":"5 km model"},{"x":107.9,"y":3.27,"m":"5 km model"},{"x":111.7,"y":1.76,"m":"5 km model"},{"x":121.2,"y":2.16,"m":"5 km model"},{"x":125,"y":1.18,"m":"5 km model"},{"x":132.6,"y":1.31,"m":"5 km model"},{"x":140.2,"y":1.11,"m":"5 km model"},{"x":145.9,"y":0.52,"m":"5 km model"},{"x":151.6,"y":1.11,"m":"5 km model"},{"x":155.4,"y":0.78,"m":"5 km model"},{"x":159.2,"y":0.78,"m":"5 km model"},{"x":166.8,"y":0.52,"m":"5 km model"},{"x":174.4,"y":0.39,"m":"5 km model"},{"x":185.8,"y":0.78,"m":"5 km model"},{"x":193.4,"y":0.26,"m":"5 km model"},{"x":201,"y":0.2,"m":"5 km model"},{"x":208.6,"y":0,"m":"5 km model"},{"x":216.2,"y":0.2,"m":"5 km model"},{"x":227.6,"y":0.07,"m":"5 km model"},{"x":235.2,"y":0.23,"m":"5 km model"},{"x":242.9,"y":0,"m":"5 km model"},{"x":250.5,"y":0.2,"m":"5 km model"},{"x":258.1,"y":0.07,"m":"5 km model"},{"x":265.7,"y":0.26,"m":"5 km model"},{"x":277.1,"y":0.13,"m":"5 km model"},{"x":280.9,"y":0.26,"m":"5 km model"},{"x":288.5,"y":0,"m":"5 km model"},{"x":296.1,"y":0.2,"m":"5 km model"},{"x":303.7,"y":0.26,"m":"5 km model"},{"x":311.3,"y":0.46,"m":"5 km model"},{"x":318.9,"y":0.59,"m":"5 km model"},{"x":326.5,"y":0.78,"m":"5 km model"},{"x":332.2,"y":0.72,"m":"5 km model"},{"x":336,"y":1.63,"m":"5 km model"},{"x":341.7,"y":1.63,"m":"5 km model"},{"x":347.4,"y":1.9,"m":"5 km model"},{"x":351.2,"y":1.76,"m":"5 km model"},
         {"x":0,"y":0,"m":"20 km model"},{"x":1.3,"y":2.48,"m":"20 km model"},{"x":7,"y":1.96,"m":"20 km model"},{"x":12.8,"y":1.5,"m":"20 km model"},{"x":18.5,"y":2.29,"m":"20 km model"},{"x":29.9,"y":2.48,"m":"20 km model"},{"x":37.5,"y":3.27,"m":"20 km model"},{"x":43.2,"y":3.33,"m":"20 km model"},{"x":50.8,"y":2.81,"m":"20 km model"},{"x":58.4,"y":3.99,"m":"20 km model"},{"x":66,"y":6.08,"m":"20 km model"},{"x":71.7,"y":5.1,"m":"20 km model"},{"x":77.4,"y":4.84,"m":"20 km model"},{"x":81.3,"y":3.66,"m":"20 km model"},{"x":90.8,"y":2.61,"m":"20 km model"},{"x":96.5,"y":2.35,"m":"20 km model"},{"x":102.2,"y":1.44,"m":"20 km model"},{"x":107.9,"y":1.54,"m":"20 km model"},{"x":117.4,"y":1.57,"m":"20 km model"},{"x":123.1,"y":0.78,"m":"20 km model"},{"x":128.8,"y":1.24,"m":"20 km model"},{"x":136.4,"y":1.05,"m":"20 km model"},{"x":144,"y":1.18,"m":"20 km model"},{"x":151.6,"y":0.65,"m":"20 km model"},{"x":159.2,"y":0.78,"m":"20 km model"},{"x":166.8,"y":0.46,"m":"20 km model"},{"x":170.6,"y":1.11,"m":"20 km model"},{"x":174.4,"y":0.52,"m":"20 km model"},{"x":183.9,"y":0.33,"m":"20 km model"},{"x":193.4,"y":0.26,"m":"20 km model"},{"x":204.8,"y":0.13,"m":"20 km model"},{"x":220,"y":0.2,"m":"20 km model"},{"x":235.2,"y":0.26,"m":"20 km model"},{"x":242.9,"y":0.13,"m":"20 km model"},{"x":250.5,"y":0.26,"m":"20 km model"},{"x":265.7,"y":0.26,"m":"20 km model"},{"x":277.1,"y":0.33,"m":"20 km model"},{"x":280.9,"y":0.59,"m":"20 km model"},{"x":288.5,"y":0.07,"m":"20 km model"},{"x":299.9,"y":0.2,"m":"20 km model"},{"x":307.5,"y":0.78,"m":"20 km model"},{"x":315.1,"y":0.92,"m":"20 km model"},{"x":326.5,"y":1.37,"m":"20 km model"},{"x":332.2,"y":1.5,"m":"20 km model"},{"x":337.9,"y":1.63,"m":"20 km model"},{"x":343.6,"y":1.83,"m":"20 km model"},{"x":351.2,"y":2.03,"m":"20 km model"}]},
       "mark": {"type": "line"},
       "encoding": {
         "x": {"field": "x", "type": "quantitative", "scale": {"domain": [0, 396], "nice": false}, "axis": {"values": [0, 100, 200, 300], "tickSize": 3}, "title": null},
         "y": {"field": "y", "type": "quantitative", "scale": {"domain": [0, 6.78], "nice": false}, "axis": {"values": [0, 1, 2, 3, 4, 5, 6]}, "title": null},
         "color": {"field": "m", "type": "nominal", "scale": {"domain": ["20 km model", "5 km model"], "range": ["#7a7a7a", "#333333"]}, "legend": {"orient": "none", "legendX": 160, "legendY": -3, "title": null, "labelFontSize": 16, "labelColor": "#222", "symbolSize": 1100, "labelOffset": 12, "rowPadding": 0, "fillColor": "white", "strokeColor": "#e6e6e6", "padding": 7, "cornerRadius": 3}},
         "strokeDash": {"field": "m", "type": "nominal", "scale": {"domain": ["20 km model", "5 km model"], "range": [[12, 5], [1, 0]]}, "legend": {"orient": "none", "legendX": 160, "legendY": -3, "title": null, "labelFontSize": 16, "labelColor": "#222", "symbolSize": 1100, "labelOffset": 12, "rowPadding": 0, "fillColor": "white", "strokeColor": "#e6e6e6", "padding": 7, "cornerRadius": 3}},
         "strokeWidth": {"field": "m", "type": "nominal", "scale": {"domain": ["20 km model", "5 km model"], "range": [3, 1.2]}, "legend": {"orient": "none", "legendX": 160, "legendY": -3, "title": null, "labelFontSize": 16, "labelColor": "#222", "symbolSize": 1100, "labelOffset": 12, "rowPadding": 0, "fillColor": "white", "strokeColor": "#e6e6e6", "padding": 7, "cornerRadius": 3}}
       }},
      {"width": 338, "height": 346, "view": {"stroke": null}, "layer": [
        {"data": {"values": [{}]}, "mark": {"type": "rule", "strokeDash": [2, 2], "color": "#666", "strokeWidth": 1, "clip": true},
         "encoding": {"x": {"datum": 0, "type": "quantitative", "scale": {"domain": [0, 385], "nice": false}, "axis": {"values": [0, 100, 200, 300], "tickSize": 3, "domain": true, "domainColor": "#333", "domainWidth": 1.5}, "title": null},
                      "y": {"datum": 0, "type": "quantitative", "scale": {"domain": [0, 394], "nice": false}, "axis": {"values": [0, 100, 200, 300], "domain": true, "domainColor": "#333", "domainWidth": 1.5}, "title": null},
                      "x2": {"datum": 394}, "y2": {"datum": 394}}},
        {"data": {"values": [{"x":2,"lo":2,"hi":6},{"x":12,"lo":4,"hi":24},{"x":25,"lo":8,"hi":46},{"x":45,"lo":20,"hi":66},{"x":62,"lo":30,"hi":87},{"x":80,"lo":44,"hi":112},{"x":100,"lo":57,"hi":137},{"x":118,"lo":85,"hi":160},{"x":138,"lo":121,"hi":163},{"x":155,"lo":138,"hi":175},{"x":169,"lo":148,"hi":182},{"x":180,"lo":160,"hi":190},{"x":188,"lo":171,"hi":194},{"x":191,"lo":190,"hi":193}]},
         "mark": {"type": "area", "fill": "#8c8c8c", "stroke": "#666", "strokeWidth": 1},
         "encoding": {"x": {"field": "x", "type": "quantitative", "scale": {"domain": [0, 385], "nice": false}, "title": null}, "y": {"field": "lo", "type": "quantitative", "scale": {"domain": [0, 394], "nice": false}, "title": null}, "y2": {"field": "hi"}}},
        {"data": {"values": [{"x":290,"lo":292,"hi":296},{"x":300,"lo":292,"hi":306},{"x":309,"lo":288,"hi":315},{"x":320,"lo":298,"hi":328},{"x":336,"lo":311,"hi":344},{"x":345,"lo":320,"hi":352},{"x":352,"lo":334,"hi":357},{"x":360,"lo":345,"hi":360},{"x":366,"lo":356,"hi":357}]},
         "mark": {"type": "area", "fill": "#8c8c8c", "stroke": "#666", "strokeWidth": 1},
         "encoding": {"x": {"field": "x", "type": "quantitative", "scale": {"domain": [0, 385], "nice": false}, "title": null}, "y": {"field": "lo", "type": "quantitative", "scale": {"domain": [0, 394], "nice": false}, "title": null}, "y2": {"field": "hi"}}},
        {"data": {"values": [{"x":5,"lo":3,"hi":10},{"x":15,"lo":6,"hi":28},{"x":30,"lo":14,"hi":50},{"x":50,"lo":30,"hi":70},{"x":70,"lo":45,"hi":92},{"x":90,"lo":62,"hi":108},{"x":100,"lo":76,"hi":114},{"x":120,"lo":105,"hi":135},{"x":140,"lo":133,"hi":150},{"x":158,"lo":145,"hi":160},{"x":176,"lo":167,"hi":176}]},
         "mark": {"type": "area", "fill": "#444"},
         "encoding": {"x": {"field": "x", "type": "quantitative", "scale": {"domain": [0, 385], "nice": false}, "title": null}, "y": {"field": "lo", "type": "quantitative", "scale": {"domain": [0, 394], "nice": false}, "title": null}, "y2": {"field": "hi"}}},
        {"data": {"values": [{"x":300,"lo":296,"hi":302},{"x":315,"lo":303,"hi":318},{"x":330,"lo":315,"hi":333},{"x":345,"lo":330,"hi":348},{"x":358,"lo":345,"hi":356}]},
         "mark": {"type": "area", "fill": "#444"},
         "encoding": {"x": {"field": "x", "type": "quantitative", "scale": {"domain": [0, 385], "nice": false}, "title": null}, "y": {"field": "lo", "type": "quantitative", "scale": {"domain": [0, 394], "nice": false}, "title": null}, "y2": {"field": "hi"}}},
        {"data": {"values": [{"x":4,"lo":2,"hi":8},{"x":15,"lo":8,"hi":26},{"x":30,"lo":16,"hi":46},{"x":44,"lo":28,"hi":60},{"x":60,"lo":40,"hi":74},{"x":82,"lo":61,"hi":87},{"x":100,"lo":84,"hi":99},{"x":104,"lo":96,"hi":100}]},
         "mark": {"type": "area", "fill": "#000"},
         "encoding": {"x": {"field": "x", "type": "quantitative", "scale": {"domain": [0, 385], "nice": false}, "title": null}, "y": {"field": "lo", "type": "quantitative", "scale": {"domain": [0, 394], "nice": false}, "title": null}, "y2": {"field": "hi"}}},
        {"data": {"values": [{"x":320,"lo":313,"hi":318},{"x":332,"lo":324,"hi":336},{"x":345,"lo":336,"hi":347},{"x":353,"lo":346,"hi":349}]},
         "mark": {"type": "area", "fill": "#000"},
         "encoding": {"x": {"field": "x", "type": "quantitative", "scale": {"domain": [0, 385], "nice": false}, "title": null}, "y": {"field": "lo", "type": "quantitative", "scale": {"domain": [0, 394], "nice": false}, "title": null}, "y2": {"field": "hi"}}},
        {"data": {"values": [{"x":269.5,"y":269.6}]},
         "mark": {"type": "point", "shape": "diamond", "filled": false, "size": 40, "color": "#777", "strokeWidth": 1.5, "opacity": 1},
         "encoding": {"x": {"field": "x", "type": "quantitative", "scale": {"domain": [0, 385], "nice": false}, "title": null}, "y": {"field": "y", "type": "quantitative", "scale": {"domain": [0, 394], "nice": false}, "title": null}}},
        {"data": {"values": [{}]}, "mark": {"type": "rule", "color": "#333", "strokeWidth": 1.5},
         "encoding": {"y": {"datum": 394, "type": "quantitative", "scale": {"domain": [0, 394], "nice": false}, "title": null}}},
        {"data": {"values": [{}]}, "mark": {"type": "text", "text": "wave peak direction [deg]", "fontSize": 15, "fontWeight": "bold", "color": "#3a3a3a", "align": "left", "baseline": "middle"},
         "encoding": {"x": {"datum": 19.7, "type": "quantitative", "scale": {"domain": [0, 385], "nice": false}, "title": null}, "y": {"datum": 356.8, "type": "quantitative", "scale": {"domain": [0, 394], "nice": false}, "title": null}}},
        {"data": {"values": [{}]}, "mark": {"type": "text", "text": ["n=998", "ρ=0.987", "ϵ=17.26", "b=-2.03", "σᵦ=17.15", "SI=0.14", "mₒ=0.987"], "lineHeight": 18.3, "fontSize": 16, "color": "#111", "align": "left", "baseline": "top"},
         "encoding": {"x": {"datum": 27.3, "type": "quantitative", "scale": {"domain": [0, 385], "nice": false}, "title": null}, "y": {"datum": 340.5, "type": "quantitative", "scale": {"domain": [0, 394], "nice": false}, "title": null}}}
      ]}
     ]}
  ]}
  ]}
]
}
